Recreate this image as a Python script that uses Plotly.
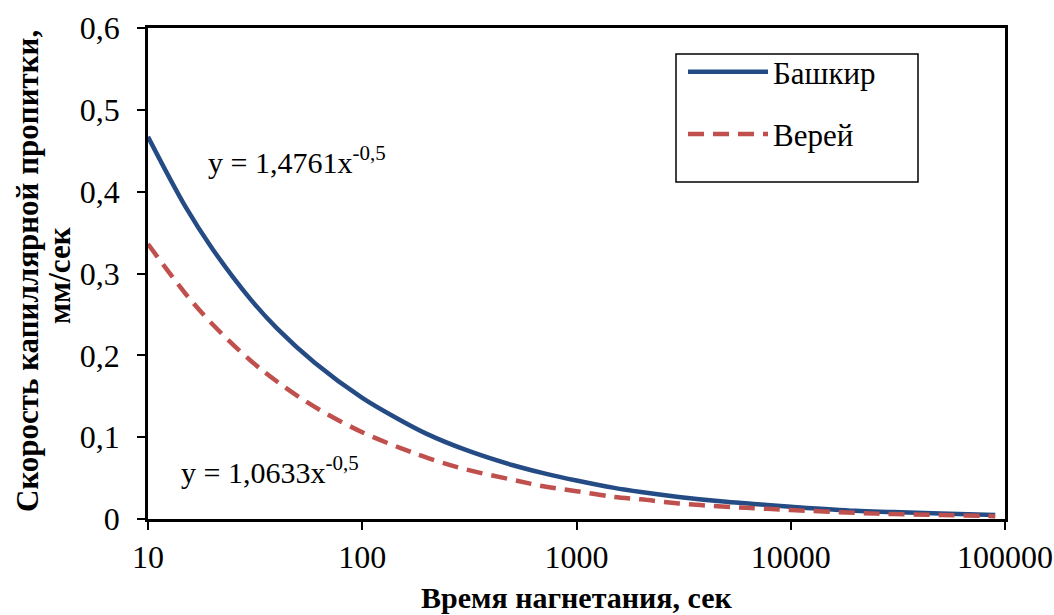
import plotly.graph_objects as go

time_s = [10, 15, 20, 30, 40, 60, 100, 150, 200, 300, 500, 700, 1000, 1500, 2000,
          3000, 5000, 7000, 10000, 20000, 30000, 50000, 90000]
bashkir = [0.467, 0.381, 0.330, 0.269, 0.233, 0.191, 0.148, 0.121, 0.104, 0.085, 0.066,
           0.056, 0.047, 0.038, 0.033, 0.027, 0.021, 0.018, 0.015, 0.010, 0.0085, 0.0066, 0.005]
verey = [0.336, 0.275, 0.238, 0.194, 0.168, 0.137, 0.106, 0.087, 0.075, 0.061, 0.048,
         0.040, 0.034, 0.027, 0.024, 0.019, 0.015, 0.013, 0.011, 0.0075, 0.006, 0.0048, 0.0035]
series_names = ["Башкир", "Верей"]
x_ticks = [10, 100, 1000, 10000, 100000]
y_ticks = [0, 0.1, 0.2, 0.3, 0.4, 0.5, 0.6]
y_tick_labels = ["0", "0,1", "0,2", "0,3", "0,4", "0,5", "0,6"]
eq_bashkir = "y = 1,4761x<sup>-0,5</sup>"
eq_verey = "y = 1,0633x<sup>-0,5</sup>"
y_title_1 = "Скорость капиллярной пропитки,"
y_title_2 = "мм/сек"
x_title = "Время нагнетания, сек"

FONT = "Liberation Serif, Times New Roman, serif"
FS = 30
TICK_FS = 32

# plot-area pixel geometry
L, R, T, B = 148, 1005, 28, 519
PW, PH = R - L, B - T


def px(xp):
    return (xp - L) / PW


def py(yp):
    return (B - yp) / PH


fig = go.Figure()
fig.add_trace(go.Scatter(x=time_s, y=bashkir, name=series_names[0], mode="lines",
                         line=dict(color="#254B84", width=4.5, shape="spline"),
                         legendgroup="a"))
fig.add_trace(go.Scatter(x=time_s, y=verey, name=series_names[1], mode="lines",
                         line=dict(color="#C0504D", width=4.5, dash="16px,9px", shape="spline"),
                         legendgroup="b"))

fig.update_layout(
    template="none",
    width=1054, height=615,
    margin=dict(l=L, r=1054 - R, t=T, b=615 - B, pad=0, autoexpand=False),
    paper_bgcolor="white", plot_bgcolor="white",
    font=dict(family=FONT, size=FS, color="black"),
    showlegend=True,
    legend=dict(x=px(683), y=py(45), xanchor="left", yanchor="top",
                borderwidth=0, bgcolor="rgba(0,0,0,0)",
                font=dict(family=FONT, size=31, color="black"),
                tracegroupgap=19, itemwidth=80),
    xaxis=dict(type="log", range=[1, 5], tickvals=x_ticks,
               ticktext=[str(v) for v in x_ticks], automargin=False,
               showgrid=False, zeroline=False,
               showline=True, linecolor="black", linewidth=2.5, mirror=True,
               ticks="outside", ticklen=8, tickwidth=2, tickcolor="black",
               tickfont=dict(family=FONT, size=TICK_FS)),
    yaxis=dict(range=[0, 0.6], tickvals=y_ticks, ticktext=y_tick_labels,
               automargin=False, ticklabelstandoff=11,
               showgrid=False, zeroline=False,
               showline=True, linecolor="black", linewidth=2.5, mirror=True,
               ticks="outside", ticklen=8, tickwidth=2, tickcolor="black",
               tickfont=dict(family=FONT, size=TICK_FS)),
)

# legend frame
fig.add_shape(type="rect", xref="paper", yref="paper",
              x0=px(676), x1=px(918), y0=py(182), y1=py(54),
              line=dict(color="black", width=1.5), fillcolor="rgba(0,0,0,0)")

fig.add_annotation(text=eq_bashkir, xref="paper", yref="paper",
                   x=px(206), y=py(160), xanchor="left", yanchor="middle",
                   showarrow=False, font=dict(family=FONT, size=FS))
fig.add_annotation(text=eq_verey, xref="paper", yref="paper",
                   x=px(179), y=py(470), xanchor="left", yanchor="middle",
                   showarrow=False, font=dict(family=FONT, size=FS))
fig.add_annotation(text="<b>" + y_title_1 + "</b>",
                   xref="paper", yref="paper", x=px(27), y=py(271),
                   xanchor="center", yanchor="middle", textangle=-90, showarrow=False,
                   font=dict(family=FONT, size=31))
fig.add_annotation(text="<b>" + y_title_2 + "</b>",
                   xref="paper", yref="paper", x=px(59), y=py(276),
                   xanchor="center", yanchor="middle", textangle=-90, showarrow=False,
                   font=dict(family=FONT, size=31))
fig.add_annotation(text="<b>" + x_title + "</b>",
                   xref="paper", yref="paper", x=0.5, y=py(597),
                   xanchor="center", yanchor="middle", showarrow=False,
                   font=dict(family=FONT, size=30))

fig.write_html("out.html", config={"displayModeBar": False},
               post_script="document.body.style.margin='0px';"
                           "document.body.style.overflow='hidden';")
